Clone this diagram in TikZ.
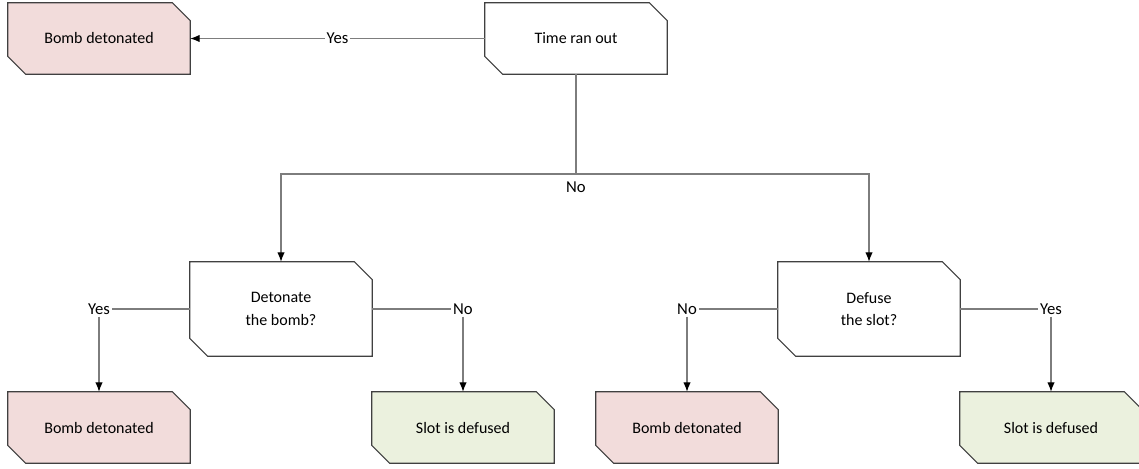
\documentclass[tikz,border=0pt]{standalone}
\usepackage{fontspec}
\setmainfont{Carlito}
\usetikzlibrary{arrows.meta,backgrounds}
\definecolor{bombred}{RGB}{242,220,219}
\definecolor{defusegreen}{RGB}{235,241,222}
\definecolor{edgegray}{RGB}{64,64,64}
\definecolor{linegray}{RGB}{125,125,125}
\tikzset{>={Latex[length=7pt,width=5.5pt,color=black]}}

\begin{document}
\begin{tikzpicture}[x=0.75pt,y=-0.75pt,
    box/.style={rectangle,minimum width=136.5pt,minimum height=53.25pt,inner sep=0pt,align=center,font=\fontsize{12}{17}\selectfont},
    ask/.style={box,minimum height=70.5pt},
    lbl/.style={fill=white,inner sep=1.5pt,font=\fontsize{12.5}{14}\selectfont},
    conn/.style={draw=linegray,line width=0.8pt}]
    \useasboundingbox (0,0) rectangle (1139,468);

    % questions and outcomes
    \node[box] (bombtop) at (99,38.5) {Bomb detonated};
    \node[box] (timeout) at (576,38.5) {Time ran out};
    \node[ask] (detonate) at (281,309) {Detonate\\the bomb?};
    \node[ask] (defuse) at (869,309) {Defuse\\the slot?};
    \node[box] (bombleft) at (99,427.5) {Bomb detonated};
    \node[box] (slotleft) at (463,427.5) {Slot is defused};
    \node[box] (bombright) at (687,427.5) {Bomb detonated};
    \node[box] (slotright) at (1051,427.5) {Slot is defused};

    % chamfered outlines behind the text
    \begin{scope}[on background layer]
        \foreach \n/\c in {bombtop/bombred,timeout/white,detonate/white,defuse/white,
                           bombleft/bombred,slotleft/defusegreen,bombright/bombred,slotright/defusegreen}
            \filldraw[draw=edgegray,line width=0.8pt,fill=\c] (\n.north west) -- ([xshift=-13.5pt]\n.north east)
                -- ([yshift=-13.5pt]\n.north east) -- (\n.south east) -- ([xshift=13.5pt]\n.south west)
                -- ([yshift=13.5pt]\n.south west) -- cycle;
    \end{scope}

    % branch labels
    \node[lbl] (yesdet) at (99,309) {Yes};
    \node[lbl] (nodet) at (463,309) {No};
    \node[lbl] (nodef) at (687,309) {No};
    \node[lbl] (yesdef) at (1051,309) {Yes};
    \coordinate (split) at (576,174);

    \draw[conn,->] (timeout) -- node[lbl] (yestime) {Yes} (bombtop);
    \draw[conn] (timeout) -- (split) node[lbl,below=4pt] (notime) {No};
    \draw[conn,->] (split) -| (detonate);
    \draw[conn,->] (split) -| (defuse);

    \draw[conn] (detonate) -- (yesdet);
    \draw[conn,->] (yesdet) -- (bombleft);
    \draw[conn] (detonate) -- (nodet);
    \draw[conn,->] (nodet) -- (slotleft);
    \draw[conn] (defuse) -- (nodef);
    \draw[conn,->] (nodef) -- (bombright);
    \draw[conn] (defuse) -- (yesdef);
    \draw[conn,->] (yesdef) -- (slotright);
\end{tikzpicture}
\end{document}
